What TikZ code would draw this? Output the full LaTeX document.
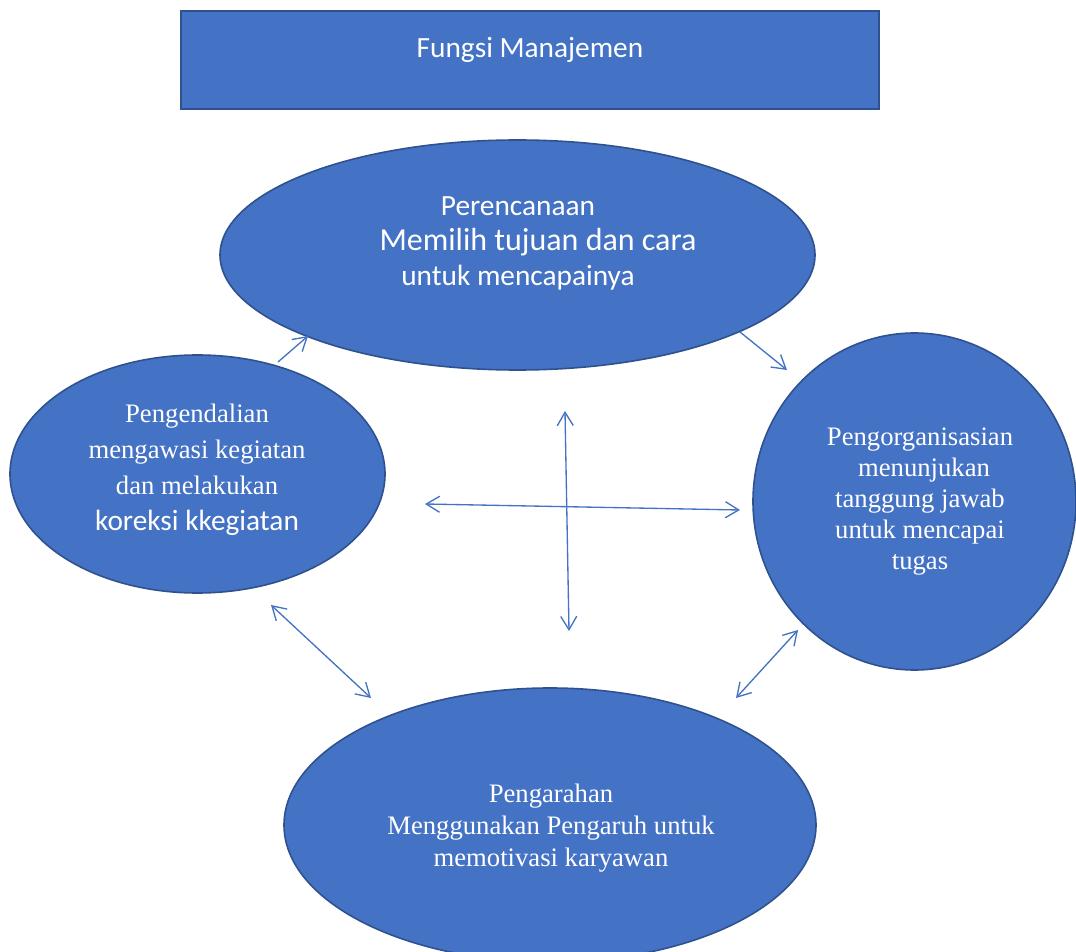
\documentclass[tikz,border=0pt]{standalone}
\usepackage{fontspec}
\setmainfont{Liberation Serif}
\newfontfamily\calibri{Carlito}
\usetikzlibrary{shapes.geometric,arrows.meta}

\definecolor{biru}{RGB}{68,114,196}
\definecolor{birutua}{RGB}{47,82,143}

\tikzset{every picture/.style={line width=0.75pt}}
\tikzset{
  bentuk/.style={draw=birutua, fill=biru, line width=1.2pt},
  elips/.style={bentuk, ellipse, inner sep=0pt},
  teks/.style={text=white, align=center, inner sep=0.75pt, font=\fontsize{20}{27}\selectfont},
  teksc/.style={text=white, align=center, inner sep=0.75pt, font=\calibri\fontsize{22}{26}\selectfont},
  ujung/.tip={Straight Barb[length=10pt,width=12pt]},
  panah/.style={draw=biru, line width=1pt, -ujung},
  panahdua/.style={draw=biru, line width=1pt, ujung-ujung},
}

\begin{document}
\begin{tikzpicture}[x=0.75pt,y=0.75pt,yscale=-1,xscale=1]
\useasboundingbox (0,0) rectangle (1076,952);

%Shape: Rectangle [judul]
\node[bentuk, rectangle, minimum width=523.5pt, minimum height=73.5pt] (judul) at (530,60) {};
%Shape: Ellipse [perencanaan]
\node[elips, minimum width=446.25pt, minimum height=172.5pt] (atas) at (517.5,255) {};
%Shape: Ellipse [pengendalian]
\node[elips, minimum width=281.25pt, minimum height=178.5pt] (kiri) at (197.5,474) {};
%Shape: Ellipse [pengorganisasian]
\node[elips, minimum width=242.25pt, minimum height=252.75pt] (kanan) at (914.5,501.5) {};
%Shape: Ellipse [pengarahan]
\node[elips, minimum width=399pt, minimum height=205.5pt] (bawah) at (550,825) {};

% Text Node
\node[teksc] (judulteks) at (530,50) {Fungsi Manajemen};
% Text Node
\node[teksc, font=\calibri\fontsize{22}{26.5}\selectfont] (atasteks) at (518,243.5) {Perencanaan\\ \hspace*{30pt}{\fontsize{24}{26.5}\selectfont Memilih tujuan dan cara}\\ untuk mencapainya};
% Text Node
\node[teks] (kiriteks) at (197,470) {Pengendalian\\ mengawasi kegiatan\\ dan melakukan\\ {\calibri\fontsize{22}{28}\selectfont koreksi kkegiatan}};
% Text Node
\node[teks, font=\fontsize{20}{23.25}\selectfont] (kananteks) at (920,501.5) {Pengorganisasian\\ \hspace*{6pt}menunjukan\\ tanggung jawab\\ untuk mencapai\\ tugas};
% Text Node
\node[teks, font=\fontsize{20}{24}\selectfont] (bawahteks) at (551,828) {Pengarahan\\ Menggunakan Pengaruh untuk\\ memotivasi karyawan};

% Connection ends
\coordinate (p1a) at (278,362);
\coordinate (p1b) at (308,336);
\coordinate (p2a) at (740,332);
\coordinate (p2b) at (787,370);
\coordinate (p3a) at (425,504);
\coordinate (p3b) at (740,510);
\coordinate (p4a) at (565,411);
\coordinate (p4b) at (569,631);
\coordinate (p5a) at (271,605);
\coordinate (p5b) at (371,698);
\coordinate (p6a) at (798,630);
\coordinate (p6b) at (736,698);

% Connection
\draw[panah] (p1a) -- (p1b);
% Connection
\draw[panah] (p2a) -- (p2b);
% Connection
\draw[panahdua] (p3a) -- (p3b);
% Connection
\draw[panahdua] (p4a) -- (p4b);
% Connection
\draw[panahdua] (p5a) -- (p5b);
% Connection
\draw[panahdua] (p6a) -- (p6b);

\end{tikzpicture}
\end{document}
